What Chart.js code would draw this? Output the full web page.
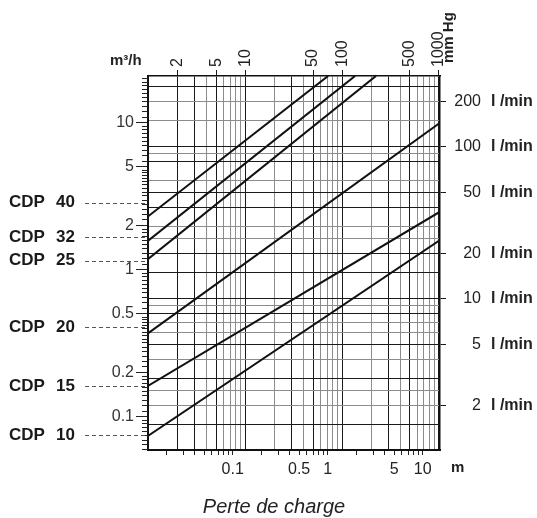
<!DOCTYPE html>
<html>
<head>
<meta charset="utf-8">
<script src="https://cdn.jsdelivr.net/npm/chart.js@4.4.1/dist/chart.umd.min.js"></script>
<style>
  html, body { margin: 0; padding: 0; background: #fff; }
</style>
</head>
<body>
<canvas id="chart" width="537" height="518"></canvas>
<script>
const FONT = '"Liberation Sans", Arial, Helvetica, sans-serif';

// one straight line per pipe size (log-log), read at the plot edges
const series = ["CDP 40", "CDP 32", "CDP 25", "CDP 20", "CDP 15", "CDP 10"];
const lossStart = [0.0128, 0.0128, 0.0128, 0.0128, 0.0128, 0.0128]; // m
const flowStart = [2.30, 1.57, 1.18, 0.369, 0.162, 0.074];           // m3/h
const lossEnd = [1.01, 1.94, 3.22, 15.2, 15.2, 15.2];                // m
const flowEnd = [20.8, 20.8, 20.8, 10.0, 2.48, 1.59];                // m3/h
const labelFlow = [2.86, 1.66, 1.15, 0.406, 0.162, 0.075];           // dashed leaders, m3/h

// axes
const flowLabels = [0.1, 0.2, 0.5, 1, 2, 5, 10];                      // left, m3/h
const lossTicks = [0.02, 0.03, 0.04, 0.05, 0.06, 0.07, 0.08, 0.09,
  0.1, 0.2, 0.3, 0.4, 0.5, 0.6, 0.7, 0.8, 0.9, 1, 2, 3, 4, 5, 6, 7, 8, 9, 10];
const lossLabels = [0.1, 0.5, 1, 5, 10];                              // bottom, m
const mmHgGrid = [2, 3, 4, 5, 6, 7, 8, 9, 10, 20, 30, 40, 50, 60, 70, 80, 90,
  100, 200, 300, 400, 500, 600, 700, 800, 900, 1000];
const mmHgDark = [2, 3, 5, 10, 30, 50, 100, 300, 500, 1000];
const mmHgLabels = [2, 5, 10, 50, 100, 500, 1000];                    // top, mm Hg
const lminGrid = [1.5, 2, 2.5, 3, 4, 5, 6, 7, 8, 9, 10, 15, 20, 25, 30, 40, 50,
  60, 80, 90, 100, 150, 200, 250];
const lminDark = [1.5, 3, 5, 8, 10, 15, 20, 40, 50, 80, 100, 250];
const lminLabels = [2, 5, 10, 20, 50, 100, 200];                      // right, l/min

// small unlabeled ticks on the left axis
const flowMinor = [];
[0.01, 0.1, 1, 10].forEach(d => {
  let m = 1;
  while (m < 10) {
    flowMinor.push(+(m * d).toPrecision(3));
    m = +(m + (m < 2 ? 0.1 : m < 5 ? 0.2 : 0.5)).toFixed(2);
  }
});

const DARK = "#1a1a1a";
const GREY = "#8c8c8c";
const NONE = "rgba(0,0,0,0)";

const setTicks = values => axis => { axis.ticks = values.map(v => ({ value: v })); };

const labelsPlugin = {
  id: "labels",
  afterDraw(chart) {
    const ctx = chart.ctx;
    const { y, x2, y2 } = chart.scales;
    const area = chart.chartArea;
    ctx.save();

    // left minor ticks
    ctx.strokeStyle = "#222";
    ctx.lineWidth = 1;
    flowMinor.forEach(v => {
      if (v < y.min || v > y.max || flowLabels.includes(v)) return;
      const py = Math.round(y.getPixelForValue(v)) + 0.5;
      ctx.beginPath();
      ctx.moveTo(area.left - 6, py);
      ctx.lineTo(area.left, py);
      ctx.stroke();
    });

    // top labels, rotated
    ctx.fillStyle = "#222";
    ctx.font = `16px ${FONT}`;
    ctx.textAlign = "left";
    ctx.textBaseline = "middle";
    mmHgLabels.forEach(v => {
      ctx.save();
      ctx.translate(x2.getPixelForValue(v), 67);
      ctx.rotate(-Math.PI / 2);
      ctx.fillText(String(v), 0, 0);
      ctx.restore();
    });
    ctx.save();
    ctx.font = `bold 15px ${FONT}`;
    ctx.translate(449, 63);
    ctx.rotate(-Math.PI / 2);
    ctx.fillText("mm Hg", 0, 0);
    ctx.restore();

    // units
    ctx.font = `bold 15px ${FONT}`;
    ctx.textBaseline = "alphabetic";
    ctx.fillText("m³/h", 110, 65);
    ctx.textBaseline = "middle";
    ctx.fillText("m", 451, 468);

    // right labels
    lminLabels.forEach(v => {
      const py = y2.getPixelForValue(v);
      ctx.font = `16px ${FONT}`;
      ctx.textAlign = "right";
      ctx.fillText(String(v), 481, py);
      ctx.font = `bold 16px ${FONT}`;
      ctx.textAlign = "left";
      ctx.fillText("l /min", 491, py);
    });

    // pipe size labels with dashed leaders
    series.forEach((name, i) => {
      const py = y.getPixelForValue(labelFlow[i]);
      const [word, size] = name.split(" ");
      ctx.font = `bold 17px ${FONT}`;
      ctx.fillStyle = "#1a1a1a";
      ctx.textAlign = "left";
      ctx.fillText(word, 9, py);
      ctx.textAlign = "right";
      ctx.fillText(size, 75, py);
      ctx.strokeStyle = "#555";
      ctx.lineWidth = 1.2;
      ctx.setLineDash([4, 3]);
      ctx.beginPath();
      ctx.moveTo(85, Math.round(py) + 0.5);
      ctx.lineTo(145, Math.round(py) + 0.5);
      ctx.stroke();
      ctx.setLineDash([]);
    });

    // title
    ctx.font = `italic 20px ${FONT}`;
    ctx.textAlign = "center";
    ctx.fillStyle = "#222";
    ctx.fillText("Perte de charge", 274, 507);
    ctx.restore();
  }
};

new Chart(document.getElementById("chart"), {
  type: "scatter",
  data: {
    datasets: series.map((name, i) => ({
      label: name,
      data: [{ x: lossStart[i], y: flowStart[i] }, { x: lossEnd[i], y: flowEnd[i] }],
      showLine: true,
      borderColor: "#111",
      borderWidth: 2,
      pointRadius: 0,
      xAxisID: "x",
      yAxisID: "y"
    }))
  },
  options: {
    responsive: false,
    animation: false,
    plugins: { legend: { display: false }, tooltip: { enabled: false } },
    layout: { padding: 0 },
    scales: {
      x: {
        type: "logarithmic",
        position: "bottom",
        min: 0.01283,
        max: 15.2,
        afterBuildTicks: setTicks(lossTicks),
        afterFit: s => { s.height = 68; },
        grid: { drawOnChartArea: false, tickLength: 5, tickColor: "#222" },
        border: { color: "#111", width: 2 },
        ticks: {
          autoSkip: false,
          maxRotation: 0,
          padding: 5,
          color: "#222",
          font: { family: FONT, size: 16 },
          callback: v => (lossLabels.includes(v) ? String(v) : "")
        }
      },
      y: {
        type: "logarithmic",
        position: "left",
        min: 0.0594,
        max: 20.78,
        afterBuildTicks: setTicks(flowLabels),
        afterFit: s => { s.width = 148; },
        grid: { drawOnChartArea: false, tickLength: 12, tickColor: "#222" },
        border: { color: "#111", width: 2 },
        ticks: {
          padding: 2,
          color: "#333",
          font: { family: FONT, size: 16 },
          callback: v => String(v)
        }
      },
      x2: {
        type: "logarithmic",
        position: "top",
        min: 0.987,
        max: 1025,
        afterBuildTicks: setTicks(mmHgGrid),
        afterFit: s => { s.height = 76; },
        grid: {
          drawOnChartArea: true,
          tickLength: 6,
          lineWidth: 1,
          color: c => (mmHgDark.includes(c.tick.value) ? DARK : GREY),
          tickColor: c => (mmHgLabels.includes(c.tick.value) ? DARK : NONE)
        },
        border: { color: "#111", width: 1.5 },
        ticks: { display: false }
      },
      y2: {
        type: "logarithmic",
        position: "right",
        min: 1.015,
        max: 293,
        afterBuildTicks: setTicks(lminGrid),
        afterFit: s => { s.width = 97; },
        grid: {
          drawOnChartArea: true,
          tickLength: 6,
          lineWidth: 1,
          color: c => (lminDark.includes(c.tick.value) ? DARK : GREY),
          tickColor: c => (lminLabels.includes(c.tick.value) ? DARK : NONE)
        },
        border: { color: "#111", width: 1.5 },
        ticks: { display: false }
      }
    }
  },
  plugins: [labelsPlugin]
});
</script>
</body>
</html>
